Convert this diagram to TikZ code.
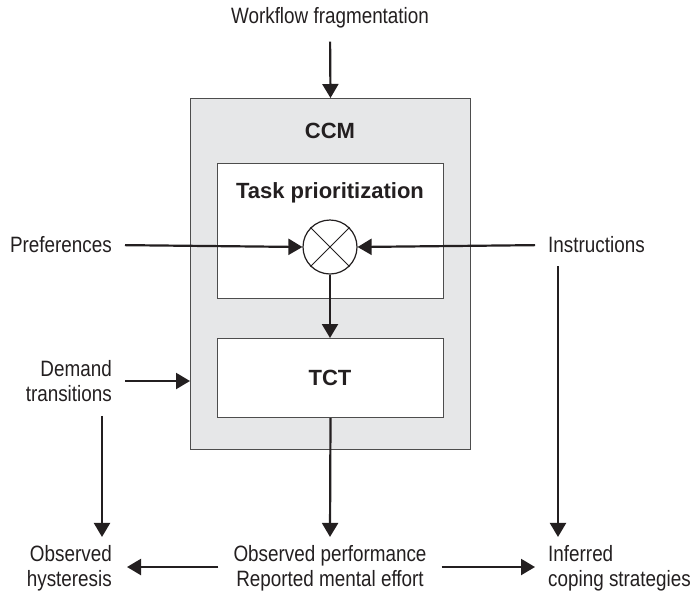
\documentclass[tikz,border=0pt]{standalone}
\usepackage{fontspec}
\setmainfont{Liberation Sans}
\newfontfamily\condfont{Liberation Sans}[FakeStretch=0.85]
\usetikzlibrary{arrows.meta}
\definecolor{ink}{HTML}{231F20}
\definecolor{ccmfill}{HTML}{E6E7E8}
\definecolor{frame}{HTML}{4D4D4D}
\tikzset{
  lbl/.style={inner sep=0pt, text=ink, font=\condfont\fontsize{22.2}{25}\selectfont},
  ttl/.style={inner sep=0pt, text=ink, font=\bfseries\fontsize{22}{26}\selectfont},
  panel/.style={draw=frame, line width=1pt, anchor=north west},
  arr/.style={draw=ink, line width=2.2pt, -{Triangle[length=14pt,width=16pt]}},
}
\begin{document}
\begin{tikzpicture}[x=1pt,y=-1pt]
\useasboundingbox (0,0) rectangle (696,592);

% CCM frame and its two inner blocks
\node[panel, fill=ccmfill, minimum width=280pt, minimum height=351pt] (ccm) at (190,98) {};
\node[ttl] (ccmt) at (330,131) {CCM};
\node[panel, fill=white, minimum width=226pt, minimum height=135pt] (prio) at (217,163) {};
\node[ttl] (priot) at (330,193) {Task prioritization};
\node[panel, fill=white, minimum width=226pt, minimum height=79pt] (tct) at (217,338) {};
\node[ttl] (tctt) at (330,378) {TCT};

% multiplication junction
\node[circle, draw=ink, line width=1.2pt, fill=white, minimum size=54pt, inner sep=0pt] (mix) at (330,247) {};
\draw[ink, line width=1pt] (mix.north west) -- (mix.south east);
\draw[ink, line width=1pt] (mix.north east) -- (mix.south west);

% labels
\node[lbl] (wf) at (330,18) {Workflow fragmentation};
\node[lbl, anchor=east] (pref) at (112,245) {Preferences};
\node[lbl, anchor=west] (instr) at (548,245) {Instructions};
\node[lbl, anchor=east, align=right] (dem) at (112,381) {Demand\\transitions};
\node[lbl, anchor=east, align=right] (hyst) at (112,568) {Observed\\hysteresis};
\node[lbl, align=center] (perf) at (330,568) {Observed performance\\Reported mental effort};
\node[lbl, anchor=west, align=left] (infer) at (548,568) {Inferred\\coping strategies};

% connectors
\draw[arr, shorten <=13pt] (wf.south) -- (ccm.north);
\draw[arr, shorten <=13pt] (pref.east) -- (mix.west);
\draw[arr, shorten <=13pt] (instr.west) -- (mix.east);
\draw[arr] (mix.south) -- (tct.north -| mix.south);
\draw[arr, shorten <=13pt] (dem.east) -- (dem.east -| ccm.west);
\draw[arr] ([yshift=-14pt]dem.south -| 102,0) -- ([yshift=8pt]hyst.north -| 102,0);
\draw[arr] (tct.south) -- ([yshift=8pt]perf.north);
\draw[arr] ([yshift=-13pt]instr.south west -| 558,0) -- ([yshift=8pt]infer.north west -| 558,0);
\draw[arr, shorten <=15pt] (perf.west |- 0,567) -- ([xshift=15pt]hyst.east |- 0,567);
\draw[arr, shorten <=15pt] (perf.east |- 0,567) -- ([xshift=-13pt]infer.west |- 0,567);
\end{tikzpicture}
\end{document}
